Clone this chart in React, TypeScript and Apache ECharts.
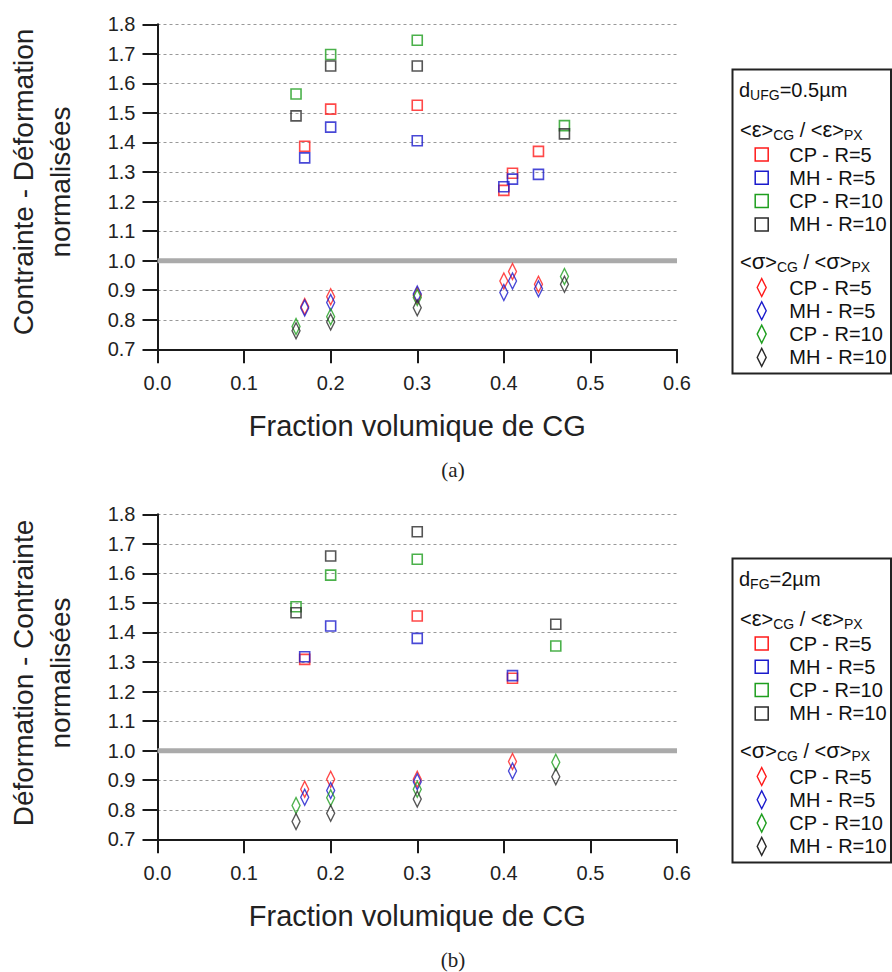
import React, { useEffect, useRef } from "react";
import * as echarts from "echarts";

// ---------- data ----------
const X_MIN = 0.0;
const X_MAX = 0.6;
const X_STEP = 0.1;
const Y_MIN = 0.7;
const Y_MAX = 1.8;
const Y_STEP = 0.1;
const REF_LEVEL = 1.0;

const X_NAME = "Fraction volumique de CG";
const Y_NAME_A = ["Contrainte - Déformation", "normalisées"];
const Y_NAME_B = ["Déformation - Contrainte", "normalisées"];
const CAPTIONS = ["(a)", "(b)"];
const LEGEND_TITLES = [
  { base: "d", sub: "UFG", rest: "=0.5µm" },
  { base: "d", sub: "FG", rest: "=2µm" },
];
const SERIES_NAMES = ["CP - R=5", "MH - R=5", "CP - R=10", "MH - R=10"];
const SERIES_COLORS = ["#ff1a1a", "#1a1acc", "#1e9e1e", "#2a2a2a"];

// (a) d_UFG = 0.5 µm : strain ratios (squares)
const aStrainCP5 = [[0.17, 1.387], [0.2, 1.513], [0.3, 1.526], [0.4, 1.238], [0.41, 1.296], [0.44, 1.37]];
const aStrainMH5 = [[0.17, 1.348], [0.2, 1.452], [0.3, 1.406], [0.4, 1.25], [0.41, 1.276], [0.44, 1.292]];
const aStrainCP10 = [[0.16, 1.564], [0.2, 1.698], [0.3, 1.746], [0.47, 1.457]];
const aStrainMH10 = [[0.16, 1.49], [0.2, 1.659], [0.3, 1.659], [0.47, 1.429]];
// (a) stress ratios (diamonds)
const aStressCP5 = [[0.17, 0.845], [0.2, 0.878], [0.3, 0.882], [0.4, 0.931], [0.41, 0.963], [0.44, 0.92]];
const aStressMH5 = [[0.17, 0.84], [0.2, 0.858], [0.3, 0.887], [0.4, 0.892], [0.41, 0.931], [0.44, 0.905]];
const aStressCP10 = [[0.16, 0.777], [0.2, 0.81], [0.3, 0.875], [0.47, 0.946]];
const aStressMH10 = [[0.16, 0.763], [0.2, 0.792], [0.3, 0.841], [0.47, 0.92]];

// (b) d_FG = 2 µm : strain ratios (squares)
const bStrainCP5 = [[0.17, 1.309], [0.3, 1.456], [0.41, 1.245]];
const bStrainMH5 = [[0.17, 1.318], [0.2, 1.422], [0.3, 1.38], [0.41, 1.254]];
const bStrainCP10 = [[0.16, 1.487], [0.2, 1.594], [0.3, 1.648], [0.46, 1.354]];
const bStrainMH10 = [[0.16, 1.467], [0.2, 1.659], [0.3, 1.741], [0.46, 1.428]];
// (b) stress ratios (diamonds)
const bStressCP5 = [[0.17, 0.869], [0.2, 0.903], [0.3, 0.903], [0.41, 0.963]];
const bStressMH5 = [[0.17, 0.842], [0.2, 0.865], [0.3, 0.895], [0.41, 0.931]];
const bStressCP10 = [[0.16, 0.814], [0.2, 0.841], [0.3, 0.869], [0.46, 0.961]];
const bStressMH10 = [[0.16, 0.76], [0.2, 0.788], [0.3, 0.836], [0.46, 0.912]];

const STRAIN_SETS = [
  [aStrainCP5, aStrainMH5, aStrainCP10, aStrainMH10],
  [bStrainCP5, bStrainMH5, bStrainCP10, bStrainMH10],
];
const STRESS_SETS = [
  [aStressCP5, aStressMH5, aStressCP10, aStressMH10],
  [bStressCP5, bStressMH5, bStressCP10, bStressMH10],
];

// ---------- styling ----------
const SANS = "'Liberation Sans', Arial, sans-serif";
const SERIF = "'Liberation Serif', 'DejaVu Serif', serif";
const INK = "#1a1a1a";

const GRID_TOPS = [24.3, 514.3];
const GRID_LEFT = 157.5;
const GRID_W = 519.5;
const GRID_H = 325;
const LEGEND_TOPS = [69.5, 558.5];

function buildOption() {
  const grids = GRID_TOPS.map((top) => ({ left: GRID_LEFT, top, width: GRID_W, height: GRID_H }));

  const xAxes = GRID_TOPS.map((_, i) => ({
    gridIndex: i,
    type: "value",
    min: X_MIN,
    max: X_MAX,
    interval: X_STEP,
    axisLine: { show: true, onZero: false, lineStyle: { color: INK, width: 2 } },
    axisTick: { show: true, inside: false, length: 14, lineStyle: { color: INK, width: 2 } },
    axisLabel: {
      margin: 24,
      fontFamily: SANS,
      fontSize: 20,
      color: "#222",
      formatter: (v: number) => v.toFixed(1),
    },
    splitLine: { show: false },
    name: X_NAME,
    nameLocation: "middle",
    nameGap: 62,
    nameTextStyle: { fontFamily: SANS, fontSize: 29, color: "#222" },
  }));

  const yAxes = GRID_TOPS.map((_, i) => ({
    gridIndex: i,
    type: "value",
    min: Y_MIN,
    max: Y_MAX,
    interval: Y_STEP,
    axisLine: { show: true, lineStyle: { color: INK, width: 2 } },
    axisTick: { show: true, inside: false, length: 15, lineStyle: { color: INK, width: 2 } },
    axisLabel: {
      margin: 22,
      fontFamily: SANS,
      fontSize: 20,
      color: "#222",
      formatter: (v: number) => v.toFixed(1),
    },
    splitLine: { show: true, lineStyle: { color: "#999", width: 1, type: [3, 3] } },
  }));

  const series: any[] = [];
  GRID_TOPS.forEach((_, g) => {
    series.push({
      type: "line",
      xAxisIndex: g,
      yAxisIndex: g,
      data: [[X_MIN, REF_LEVEL], [X_MAX, REF_LEVEL]],
      symbol: "none",
      silent: true,
      z: 1,
      lineStyle: { color: "#aaaaaa", width: 5 },
    });
    STRAIN_SETS[g].forEach((data, k) => {
      series.push({
        type: "scatter",
        name: SERIES_NAMES[k],
        xAxisIndex: g,
        yAxisIndex: g,
        data,
        symbol: "rect",
        symbolSize: 10,
        z: 3,
        itemStyle: { color: "rgba(0,0,0,0)", borderColor: SERIES_COLORS[k], borderWidth: 1.6 },
      });
    });
    STRESS_SETS[g].forEach((data, k) => {
      series.push({
        type: "scatter",
        name: SERIES_NAMES[k],
        xAxisIndex: g,
        yAxisIndex: g,
        data,
        symbol: "diamond",
        symbolSize: [8, 16],
        z: 3,
        itemStyle: { color: "rgba(0,0,0,0)", borderColor: SERIES_COLORS[k], borderWidth: 1.5 },
      });
    });
  });

  // ---------- graphics: y names, captions, legends ----------
  const graphic: any[] = [];
  const yNames = [Y_NAME_A, Y_NAME_B];
  const yNameCenters = [182, 673];
  yNames.forEach((lines, i) => {
    graphic.push({
      type: "text",
      x: 41.5,
      y: yNameCenters[i],
      rotation: Math.PI / 2,
      silent: true,
      style: {
        text: lines.join("\n"),
        font: `28px ${SANS}`,
        fontSize: 28,
        fontFamily: SANS,
        lineHeight: 37,
        fill: "#222",
        textAlign: "center",
        align: "center",
        textVerticalAlign: "middle",
        verticalAlign: "middle",
      },
    });
  });

  const captionYs = [470, 960];
  CAPTIONS.forEach((c, i) => {
    graphic.push({
      type: "text",
      x: 453,
      y: captionYs[i],
      silent: true,
      style: {
        text: c,
        font: `21px ${SERIF}`,
        fontSize: 21,
        fontFamily: SERIF,
        fill: "#222",
        textAlign: "center",
        align: "center",
        textVerticalAlign: "middle",
        verticalAlign: "middle",
      },
    });
  });

  const rich = {
    m: { fontSize: 20, fontFamily: SANS, fill: "#111", lineHeight: 22 },
    g: { fontSize: 22, fontFamily: SANS, fill: "#111", lineHeight: 22 },
    s: { fontSize: 14, fontFamily: SANS, fill: "#111", lineHeight: 12, padding: [11, 0, 0, 0] },
  };

  LEGEND_TOPS.forEach((top, i) => {
    const left = 732.5;
    const children: any[] = [];
    children.push({
      type: "rect",
      shape: { x: left, y: top, width: 158.5, height: 304 },
      style: { fill: "#fff", stroke: "#222", lineWidth: 2 },
    });
    const t = LEGEND_TITLES[i];
    const txt = (y: number, text: string, x = 739) => ({
      type: "text",
      x,
      y,
      style: {
        text,
        rich,
        textAlign: "left",
        align: "left",
        textVerticalAlign: "middle",
        verticalAlign: "middle",
      },
    });
    children.push(txt(top + 20, `{m|${t.base}}{s|${t.sub}}{m|${t.rest}}`));
    children.push(txt(top + 60, `{m|<}{g|ε}{m|>}{s|CG}{m| / <}{g|ε}{m|>}{s|PX}`, 740));
    children.push(txt(top + 192, `{m|<}{g|σ}{m|>}{s|CG}{m| / <}{g|σ}{m|>}{s|PX}`, 740));
    SERIES_NAMES.forEach((nm, k) => {
      const ySq = top + 85 + 23.3 * k;
      const yDi = top + 218 + 23.3 * k;
      children.push({
        type: "rect",
        shape: { x: 761.7 - 6.5, y: ySq - 6.5, width: 13, height: 13 },
        style: { fill: "none", stroke: SERIES_COLORS[k], lineWidth: 1.5 },
      });
      children.push({
        type: "polygon",
        shape: {
          points: [
            [761.7, yDi - 9],
            [761.7 + 4.5, yDi],
            [761.7, yDi + 9],
            [761.7 - 4.5, yDi],
          ],
        },
        style: { fill: "none", stroke: SERIES_COLORS[k], lineWidth: 1.4 },
      });
      [ySq, yDi].forEach((yy) => {
        children.push({
          type: "text",
          x: 789.3,
          y: yy,
          style: {
            text: nm,
            fontSize: 20,
            fontFamily: SANS,
            fill: "#111",
            textAlign: "left",
            align: "left",
            textVerticalAlign: "middle",
            verticalAlign: "middle",
          },
        });
      });
    });
    graphic.push({ type: "group", silent: true, children });
  });

  return {
    animation: false,
    backgroundColor: "#ffffff",
    grid: grids,
    xAxis: xAxes,
    yAxis: yAxes,
    series,
    graphic,
  };
}

export default function App() {
  const ref = useRef<HTMLDivElement>(null);
  useEffect(() => {
    if (!ref.current) return;
    const chart = echarts.init(ref.current, undefined, { renderer: "svg" });
    chart.setOption(buildOption() as any);
    return () => chart.dispose();
  }, []);
  return (
    <div
      ref={ref}
      style={{ position: "fixed", left: 0, top: 0, width: 892, height: 972, background: "#fff" }}
    />
  );
}
